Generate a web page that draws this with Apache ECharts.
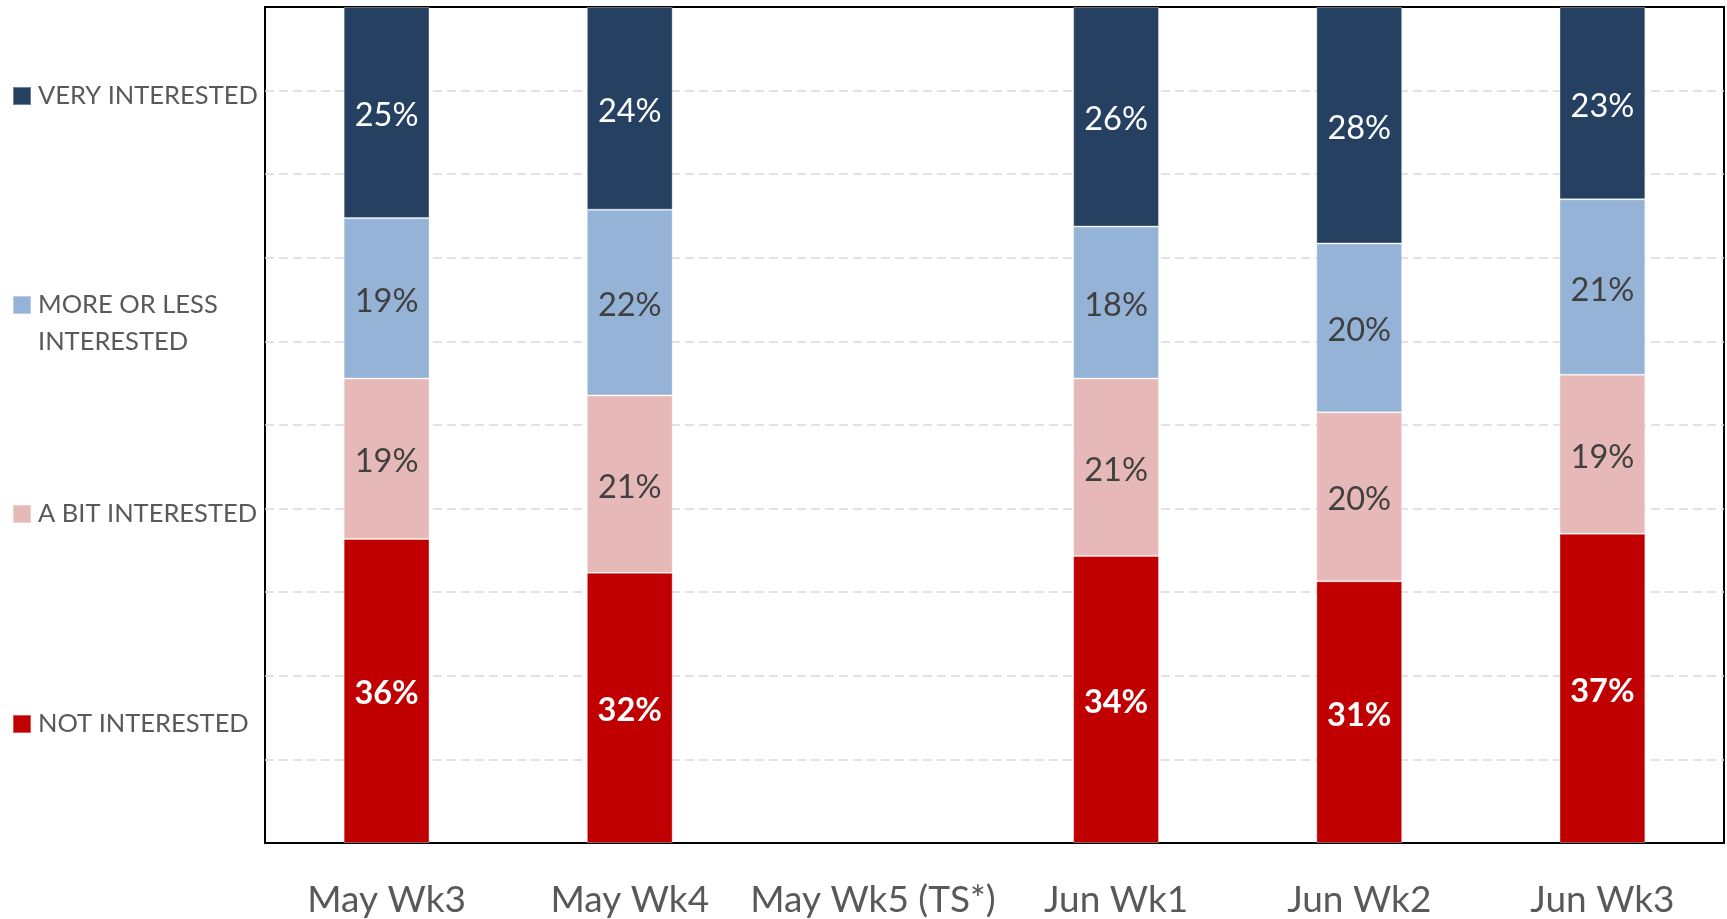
<!DOCTYPE html>
<html>
<head>
<meta charset="utf-8">
<script src="https://cdn.jsdelivr.net/npm/echarts@6/dist/echarts.min.js"></script>
<style>
html,body{margin:0;padding:0;background:#fff;}
#chart{width:1727px;height:919px;}
</style>
</head>
<body>
<div id="chart"></div>
<script>
const categories = ['May Wk3', 'May Wk4', 'May Wk5 (TS*)', 'Jun Wk1', 'Jun Wk2', 'Jun Wk3'];
const notInterested = [36, 32, null, 34, 31, 37];
const aBitInterested = [19, 21, null, 21, 20, 19];
const moreOrLessInterested = [19, 22, null, 18, 20, 21];
const veryInterested = [25, 24, null, 26, 28, 23];
const seriesNames = ['NOT INTERESTED', 'A BIT INTERESTED', 'MORE OR LESS INTERESTED', 'VERY INTERESTED'];
const seriesColors = ['#C00000', '#E6B8B7', '#95B3D7', '#264061'];

const raw = [notInterested, aBitInterested, moreOrLessInterested, veryInterested];
const totals = categories.map((c, i) => raw.reduce((s, a) => s + (a[i] == null ? 0 : a[i]), 0));

const labelStyles = [
  { color: '#ffffff', fontWeight: 'bold' },
  { color: '#404040', fontWeight: 'normal' },
  { color: '#404040', fontWeight: 'normal' },
  { color: '#ffffff', fontWeight: 'normal' }
];

const FONT = 'Lato';

const series = raw.map((arr, k) => ({
  name: seriesNames[k],
  type: 'bar',
  stack: 'total',
  barWidth: '35.3%',
  data: arr.map((v, i) => v == null ? '-' : v / totals[i] * 100),
  itemStyle: { color: seriesColors[k], borderColor: 'rgba(255,255,255,0.35)', borderWidth: 1 },
  label: {
    show: true,
    position: 'inside',
    offset: [0, 3],
    fontFamily: FONT,
    fontSize: 32.5,
    color: labelStyles[k].color,
    fontWeight: labelStyles[k].fontWeight,
    formatter: p => arr[p.dataIndex] + '%'
  },
  emphasis: { disabled: true }
}));

function legendFor(name, top, text) {
  return {
    left: 12,
    top: top,
    padding: 0,
    orient: 'vertical',
    itemWidth: 18,
    itemHeight: 18,
    icon: 'rect',
    selectedMode: false,
    data: [name],
    formatter: () => text,
    textStyle: {
      fontFamily: FONT,
      fontSize: 25.5,
      color: '#595959',
      lineHeight: 37,
      padding: [0, 0, 0, 2]
    }
  };
}

const option = {
  animation: false,
  backgroundColor: '#ffffff',
  grid: {
    left: 265, right: 3, top: 7, bottom: 72,
    show: true, borderColor: '#000000', borderWidth: 2, backgroundColor: 'transparent'
  },
  legend: [
    legendFor('VERY INTERESTED', 96 - 18.5, 'VERY INTERESTED'),
    legendFor('MORE OR LESS INTERESTED', 305 - 55.5, '\nMORE OR LESS\nINTERESTED'),
    legendFor('A BIT INTERESTED', 514 - 18.5, 'A BIT INTERESTED'),
    legendFor('NOT INTERESTED', 724 - 18.5, 'NOT INTERESTED')
  ],
  xAxis: {
    type: 'category',
    data: categories,
    axisLine: { show: true, lineStyle: { color: '#000000', width: 2 } },
    axisTick: { show: false },
    axisLabel: { interval: 0, fontFamily: FONT, fontSize: 37, color: '#595959', margin: 39 }
  },
  yAxis: {
    type: 'value',
    min: 0, max: 100, interval: 10,
    axisLine: { show: false },
    axisTick: { show: false },
    axisLabel: { show: false },
    splitLine: { show: true, showMaxLine: false, showMinLine: false, lineStyle: { color: '#d9d9d9', type: [9, 5], width: 1.5 } }
  },
  series: series
};

const chart = echarts.init(document.getElementById('chart'), null, { renderer: 'canvas' });
chart.setOption(option);
</script>
</body>
</html>
